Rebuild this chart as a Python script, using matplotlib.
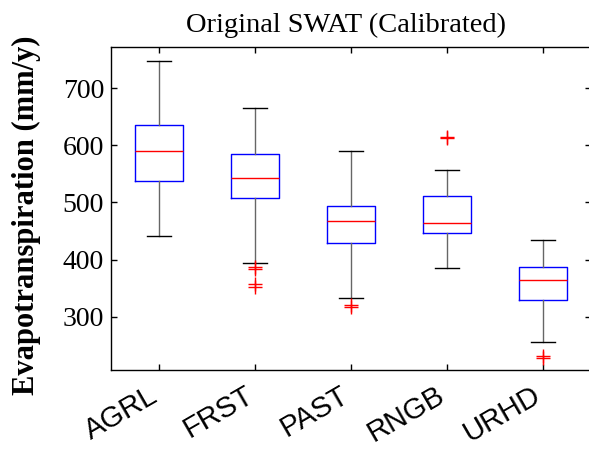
import matplotlib
matplotlib.use("Agg")
import matplotlib.pyplot as plt

categories = ["AGRL", "FRST", "PAST", "RNGB", "URHD"]
whisker_low = [441, 394, 333, 385, 256]
q1 = [537, 508, 429, 447, 330]
median = [590, 543, 467, 464, 365]
q3 = [636, 584, 493, 511, 388]
whisker_high = [747, 666, 590, 557, 435]
outliers = [[], [388, 384, 357, 352], [321, 318], [615, 612], [232, 228]]
yticks = [300, 400, 500, 600, 700]

fig = plt.figure(figsize=(5.89, 4.49), dpi=100)
ax = fig.add_axes([0.1885, 0.176, 1.003 - 0.1885, 0.8953 - 0.176])

stats = []
for i, c in enumerate(categories):
    stats.append(dict(label=c, whislo=whisker_low[i], q1=q1[i], med=median[i],
                      q3=q3[i], whishi=whisker_high[i], fliers=outliers[i]))

ax.bxp(stats, positions=range(1, len(categories) + 1), widths=0.5,
       boxprops=dict(color="blue", linewidth=1.0),
       medianprops=dict(color="red", linewidth=1.0),
       whiskerprops=dict(color="#666666", linewidth=1.0),
       capprops=dict(color="black", linewidth=1.0),
       flierprops=dict(marker="+", markeredgecolor="red", markersize=10,
                       markeredgewidth=1.0, linestyle="none"),
       capwidths=0.25)

ax.set_xlim(0.5, 5.5)
ax.set_ylim(207, 772)
ax.set_yticks(yticks)
ax.set_yticklabels([str(v) for v in yticks], family="Liberation Serif", fontsize=20)
ax.set_xticks(range(1, len(categories) + 1))
ax.set_xticklabels(categories, family="Liberation Sans", fontsize=21,
                   rotation=30, ha="right", va="baseline", rotation_mode="anchor")
ax.tick_params(direction="in", length=4, width=1, top=True, right=True, pad=5)
ax.tick_params(axis="x", pad=21.6)
for s in ax.spines.values():
    s.set_linewidth(1.0)

ax.set_title("Original SWAT (Calibrated)", family="Liberation Serif", fontsize=20.5,
             pad=11, x=0.49)
ax.set_ylabel("Evapotranspiration (mm/y)", family="Liberation Serif", fontsize=22,
              fontweight="bold")
ax.yaxis.set_label_coords(-0.146, 0.48)

fig.savefig("out.png", dpi=100)
